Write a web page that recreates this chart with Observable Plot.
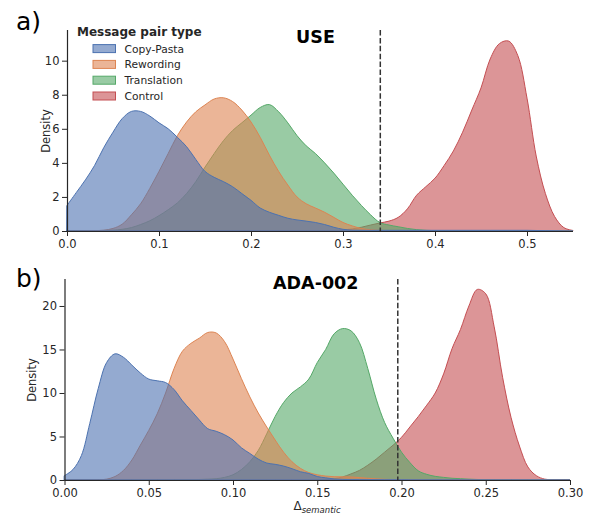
<!DOCTYPE html>
<html><head><meta charset="utf-8">
<script src="https://cdn.jsdelivr.net/npm/d3@7"></script>
<script src="https://cdn.jsdelivr.net/npm/@observablehq/plot@0.6"></script>
<style>
body{margin:0;background:#fff;font-family:"DejaVu Sans",sans-serif;color:#262626}
#wrap{position:relative;width:589px;height:516px;overflow:hidden;background:#fff}
.abs{position:absolute;left:0}
</style></head><body>
<div id="wrap">
<div id="pa" class="abs" style="top:0"></div>
<div id="pb" class="abs" style="top:258px"></div>
<svg id="ov" class="abs" style="top:0;pointer-events:none" width="589" height="516"></svg>
</div>
<script>
// ---------- data ----------
const seriesNames = ["Copy-Pasta", "Rewording", "Translation", "Control"];
const seriesColors = ["#4c72b0", "#dd8452", "#55a868", "#c44e52"];

// Panel a) USE
const xA = [0.00,0.01,0.02,0.03,0.04,0.05,0.06,0.07,0.08,0.09,0.10,0.11,0.12,0.13,0.14,0.15,0.16,0.17,0.18,0.19,0.20,0.21,0.22,0.23,0.24,0.25,0.26,0.27,0.28,0.29,0.30,0.31,0.32,0.33,0.34,0.35,0.36,0.37,0.38,0.39,0.40,0.41,0.42,0.43,0.44,0.45,0.46,0.47,0.48,0.49,0.50,0.51,0.52,0.53,0.54,0.55];
const copyPastaA = [1.5,2.25,3.0,3.85,4.9,5.8,6.6,7.02,7.02,6.75,6.35,6.0,5.5,4.95,4.2,3.5,3.15,2.9,2.6,2.2,1.8,1.35,1.1,0.92,0.75,0.65,0.58,0.5,0.38,0.22,0.1,0.05,0.04,0.04,0.04,0.04,0.04,0.04,0.04,0.04,0.04,0.04,0.04,0.04,0.04,0.04,0.04,0.04,0.04,0.04,0.04,0.03,0.02,0.01,0,0];
const rewordingA = [0,0,0.01,0.02,0.05,0.15,0.4,0.95,1.6,2.5,3.5,4.55,5.6,6.4,7.0,7.4,7.75,7.82,7.6,7.1,6.4,5.5,4.45,3.5,2.7,2.0,1.6,1.35,1.1,0.8,0.5,0.3,0.15,0.07,0.03,0.01,0,0,0,0,0,0,0,0,0,0,0,0,0,0,0,0,0,0,0,0];
const translationA = [0,0,0,0.01,0.03,0.05,0.1,0.2,0.38,0.6,0.9,1.25,1.65,2.2,2.9,3.75,4.55,5.3,5.9,6.35,6.8,7.25,7.42,7.0,6.35,5.6,5.0,4.55,4.0,3.4,2.75,2.1,1.5,0.95,0.5,0.35,0.25,0.15,0.08,0.04,0.02,0.01,0,0,0,0,0,0,0,0,0,0,0,0,0,0];
const controlA = [0,0,0,0,0,0,0,0,0,0,0,0,0,0,0,0,0,0,0,0,0,0,0,0,0,0,0,0,0.01,0.03,0.06,0.12,0.22,0.35,0.47,0.58,0.8,1.3,2.1,2.6,3.1,3.85,4.7,5.8,7.1,8.4,10.1,11.0,11.15,10.3,7.8,4.4,2.2,0.85,0.2,0.03];
const thresholdA = 0.34;
const xTicksA = [0.0,0.1,0.2,0.3,0.4,0.5];
const yTicksA = [0,2,4,6,8,10];

// Panel b) ADA-002
const xB = [0.000,0.005,0.010,0.015,0.020,0.025,0.030,0.035,0.040,0.045,0.050,0.055,0.060,0.065,0.070,0.075,0.080,0.085,0.090,0.095,0.100,0.105,0.110,0.115,0.120,0.125,0.130,0.135,0.140,0.145,0.150,0.155,0.160,0.165,0.170,0.175,0.180,0.185,0.190,0.195,0.200,0.205,0.210,0.215,0.220,0.225,0.230,0.235,0.240,0.245,0.250,0.255,0.260,0.265,0.270,0.275,0.280,0.285,0.290,0.295,0.300];
const copyPastaB = [0.5,1.2,2.8,6.5,10.5,13.5,14.5,14.1,13.2,12.3,11.6,11.4,11.2,10.4,9.1,8.0,6.9,5.9,5.6,5.2,4.6,3.7,3.05,2.4,1.95,1.8,1.6,1.3,0.95,0.75,0.4,0.25,0.12,0.07,0.05,0.04,0.03,0.03,0.02,0.02,0.02,0.01,0.01,0.01,0.01,0,0,0,0,0,0,0,0,0,0,0,0,0,0,0,0];
const rewordingB = [0,0,0,0,0.02,0.1,0.4,1.1,2.3,4.0,5.7,7.6,10.0,12.8,14.8,15.7,16.3,16.95,16.9,15.9,13.9,11.65,9.55,7.7,6.1,4.6,3.2,2.1,1.34,0.85,0.6,0.45,0.38,0.36,0.35,0.28,0.2,0.13,0.08,0.04,0.02,0,0,0,0,0,0,0,0,0,0,0,0,0,0,0,0,0,0,0,0];
const translationB = [0,0,0,0,0,0,0,0,0,0,0,0,0.01,0.01,0.02,0.04,0.06,0.1,0.15,0.3,0.6,1.2,2.1,3.4,5.3,7.3,8.9,10.0,10.7,11.6,13.5,15.0,16.8,17.4,17.15,15.8,12.8,9.3,6.6,4.8,3.2,2.0,1.05,0.65,0.42,0.3,0.2,0.15,0.1,0.06,0.04,0.02,0,0,0,0,0,0,0,0,0];
const controlB = [0,0,0,0,0,0,0,0,0,0,0,0,0,0,0,0,0,0,0,0,0,0,0,0,0,0,0,0,0,0,0.02,0.06,0.15,0.35,0.7,1.1,1.7,2.4,3.2,4.0,4.9,6.1,7.3,8.6,10.0,12.2,15.1,17.3,20.0,21.9,21.4,17.6,11.8,7.2,3.9,1.5,0.5,0.1,0.02,0,0];
const thresholdB = 0.1975;
const xTicksB = [0.00,0.05,0.10,0.15,0.20,0.25,0.30];
const yTicksB = [0,5,10,15,20];

// ---------- drawing ----------
const ink = "#262626";
function rows(xs, ys) { return xs.map((x, i) => ({x, y: ys[i]})); }

function panel({xs, series, xDomain, yDomain, xTicks, yTicks, fmt, threshold, title, titleDx, titleDy, densDx, margins}) {
  // seaborn draws the last hue first, so the first hue ends on top
  const areas = [];
  for (let k = series.length - 1; k >= 0; k--) {
    areas.push(Plot.areaY(rows(xs, series[k]), {
      x: "x", y: "y", fill: seriesColors[k], fillOpacity: 0.6,
      stroke: seriesColors[k], strokeWidth: 1, curve: "catmull-rom"
    }));
  }
  return Plot.plot({
    width: 589, height: 258,
    marginLeft: margins[0], marginRight: margins[1], marginTop: margins[2], marginBottom: margins[3],
    x: {domain: xDomain},
    y: {domain: yDomain},
    style: {fontFamily: "DejaVu Sans", fontSize: "11.5px", color: ink, background: "transparent", overflow: "visible"},
    marks: [
      ...areas,
      Plot.ruleX([threshold], {stroke: "#333", strokeWidth: 1.5, strokeDasharray: "5.5,2.4"}),
      Plot.axisX({ticks: xTicks, tickFormat: d3.format(fmt), tickSize: 5, tickPadding: 3, label: null, stroke: ink}),
      Plot.axisY({ticks: yTicks, tickSize: 5, tickPadding: 3, label: null, stroke: ink}),
      Plot.ruleY([0], {stroke: ink, strokeWidth: 1.2}),
      Plot.ruleX([0], {stroke: ink, strokeWidth: 1.2}),
      Plot.text([title], {frameAnchor: "top", textAnchor: "middle", lineAnchor: "middle", dx: titleDx, dy: titleDy, fontWeight: "bold", fontSize: 17.5, fill: "#000"}),
      Plot.text(["Density"], {frameAnchor: "left", textAnchor: "middle", lineAnchor: "middle", rotate: -90, dx: densDx, fontSize: 11.5, fill: ink})
    ]
  });
}

document.getElementById("pa").append(panel({
  xs: xA, series: [copyPastaA, rewordingA, translationA, controlA],
  xDomain: [0, 0.55], yDomain: [0, 11.8], xTicks: xTicksA, yTicks: yTicksA, fmt: ".1f",
  threshold: thresholdA, title: "USE", titleDx: -5, titleDy: 7, densDx: -21,
  margins: [67, 16, 30, 27]
}));
document.getElementById("pb").append(panel({
  xs: xB, series: [copyPastaB, rewordingB, translationB, controlB],
  xDomain: [0, 0.30], yDomain: [0, 23.1], xTicks: xTicksB, yTicks: yTicksB, fmt: ".2f",
  threshold: thresholdB, title: "ADA-002", titleDx: -2, titleDy: 4.3, densDx: -33,
  margins: [64.5, 19, 21, 36]
}));

// ---------- overlay: panel letters, legend, x label ----------
const ov = d3.select("#ov").style("font-family", "DejaVu Sans");
ov.append("text").attr("x", 16).attr("y", 30).attr("font-size", 25).attr("fill", "#000").text("a)");
ov.append("text").attr("x", 16).attr("y", 287).attr("font-size", 25).attr("fill", "#000").text("b)");
ov.append("text").attr("x", 77).attr("y", 36).attr("font-size", 12).attr("font-weight", "bold").attr("fill", ink).text("Message pair type");
seriesNames.forEach((name, i) => {
  const cy = 48.6 + i * 15.8;
  ov.append("rect").attr("x", 93).attr("y", cy - 4).attr("width", 22.5).attr("height", 8)
    .attr("fill", seriesColors[i]).attr("fill-opacity", 0.6).attr("stroke", seriesColors[i]).attr("stroke-width", 1);
  ov.append("text").attr("x", 124.5).attr("y", cy + 3.9).attr("font-size", 10.7).attr("fill", ink).text(name);
});
const xl = ov.append("text").attr("x", 317).attr("y", 510).attr("text-anchor", "middle").attr("font-size", 12).attr("fill", ink);
xl.append("tspan").text("Δ");
xl.append("tspan").attr("font-size", 8.5).attr("font-style", "italic").attr("dy", 2.5).text("semantic");
</script>
</body></html>
